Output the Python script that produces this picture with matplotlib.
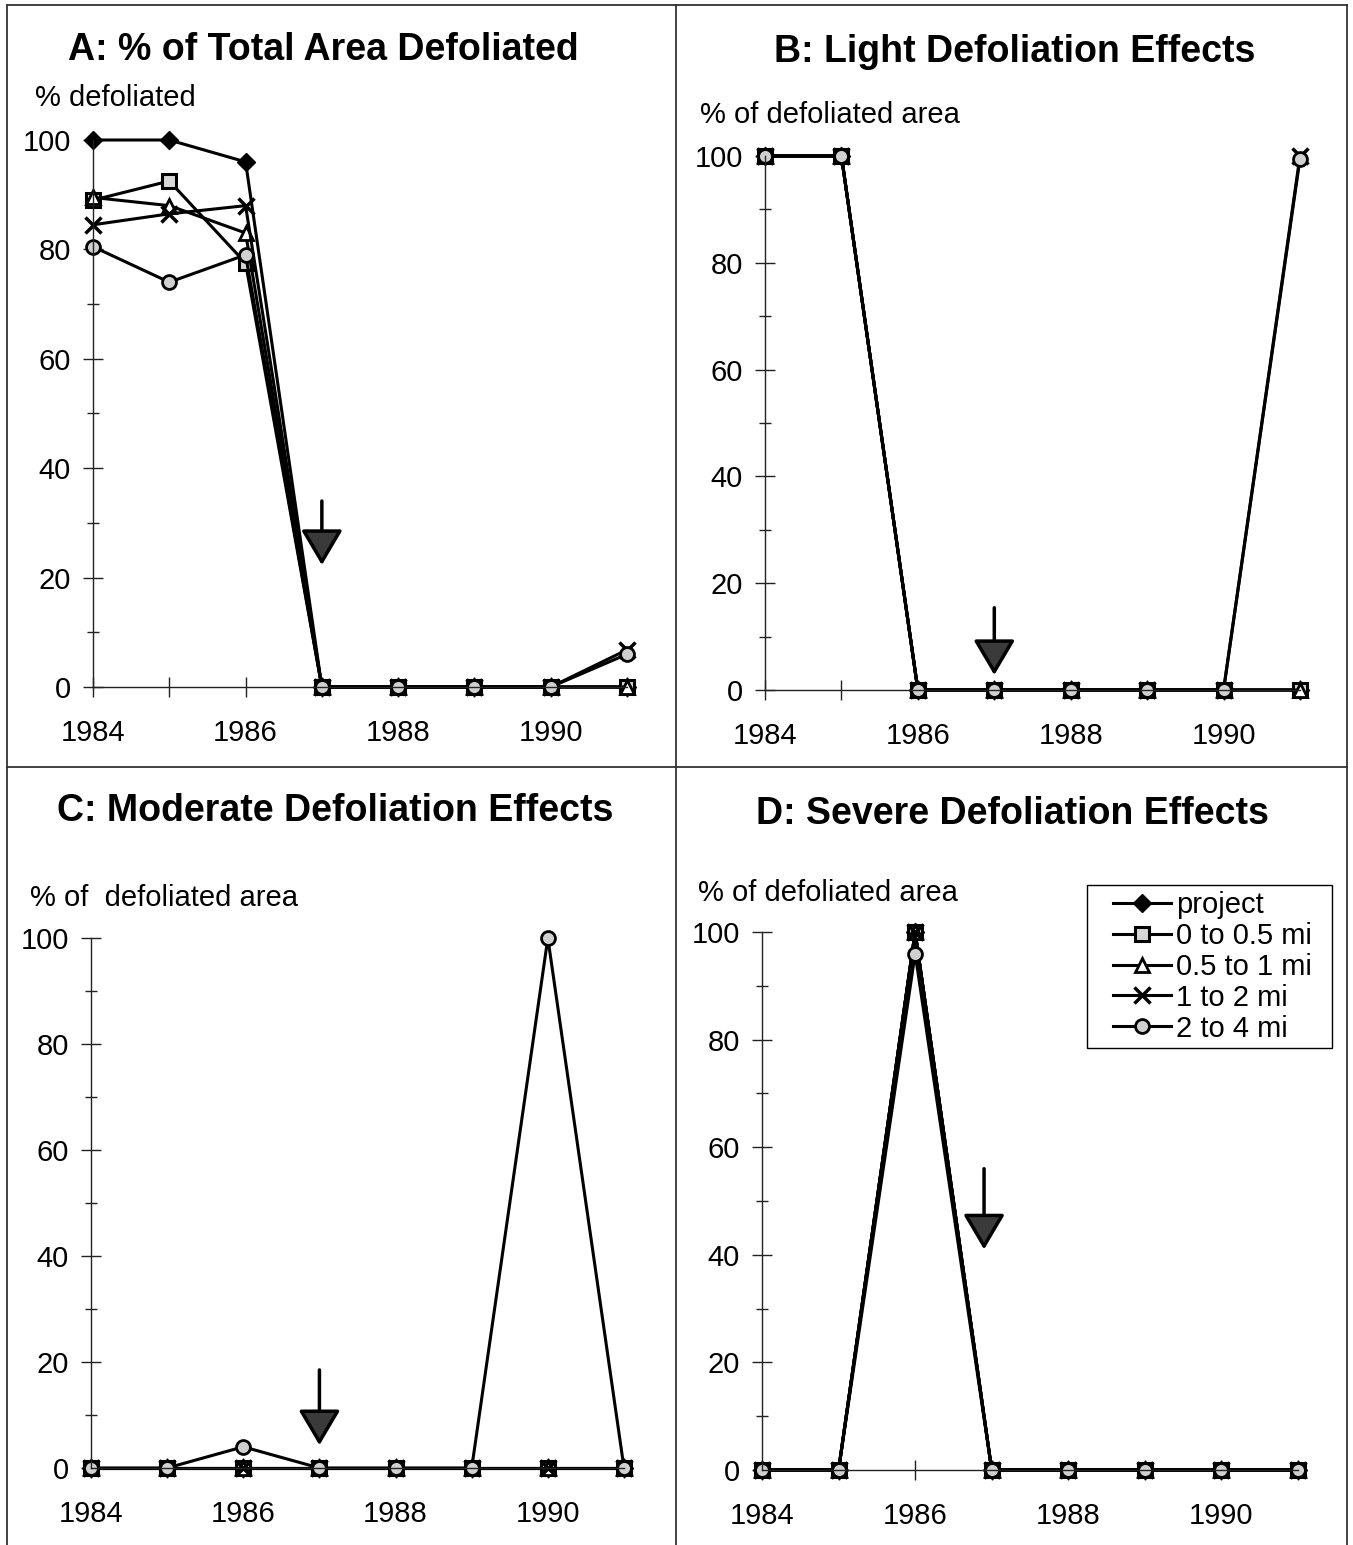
# four-panel defoliation chart (% of area defoliated by distance from project)

import matplotlib
matplotlib.use("Agg")
import matplotlib.pyplot as plt
from matplotlib.lines import Line2D
from matplotlib.patches import Rectangle

plt.rcParams['font.family'] = ['Liberation Sans', 'DejaVu Sans']

W, H = 1353, 1545

years = [1984, 1985, 1986, 1987, 1988, 1989, 1990, 1991]
year_labels = ['1984', '', '1986', '', '1988', '', '1990', '']
series_names = ['project', '0 to 0.5 mi', '0.5 to 1 mi', '1 to 2 mi', '2 to 4 mi']

# A: % of total area defoliated
a_project = [100, 100, 96, 0, 0, 0, 0, 0]
a_half = [89, 92.5, 77.5, 0, 0, 0, 0, 0]
a_one = [89.5, 88, 83, 0, 0, 0, 0, 0]
a_two = [84.5, 86.5, 88, 0, 0, 0, 0, 6.8]
a_four = [80.5, 74, 79, 0, 0, 0, 0, 6]

# B: light defoliation
b_project = [100, 100, 0, 0, 0, 0, 0, 0]
b_half = [100, 100, 0, 0, 0, 0, 0, 0]
b_one = [100, 100, 0, 0, 0, 0, 0, 0]
b_two = [100, 100, 0, 0, 0, 0, 0, 100]
b_four = [100, 100, 0, 0, 0, 0, 0, 99.5]

# C: moderate defoliation
c_project = [0, 0, 0, 0, 0, 0, 0, 0]
c_half = [0, 0, 0, 0, 0, 0, 0, 0]
c_one = [0, 0, 0, 0, 0, 0, 0, 0]
c_two = [0, 0, 0, 0, 0, 0, 0, 0]
c_four = [0, 0, 4, 0, 0, 0, 100, 0]

# D: severe defoliation
d_project = [0, 0, 100, 0, 0, 0, 0, 0]
d_half = [0, 0, 100, 0, 0, 0, 0, 0]
d_one = [0, 0, 100, 0, 0, 0, 0, 0]
d_two = [0, 0, 100, 0, 0, 0, 0, 0]
d_four = [0, 0, 96, 0, 0, 0, 0, 0]

titles = ['A: % of Total Area Defoliated', 'B: Light Defoliation Effects',
          'C: Moderate Defoliation Effects', 'D: Severe Defoliation Effects']
ylabels = ['% defoliated', '% of defoliated area', '% of  defoliated area', '% of defoliated area']

# arrow (year, top of shaft, tip) for each panel
arrows = [(1987, 34, 22.3), (1987, 15.4, 2.8), (1987, 18.5, 4.3), (1986.9, 56, 41)]

# marker styles for each series
styles = [
    dict(marker='D', ms=9, mfc='black', mec='black'),
    dict(marker='s', ms=10, mfc='#d8d8d8', mec='black', mew=2.2),
    dict(marker='^', ms=10, mfc='white', mec='black', mew=2),
    dict(marker='x', ms=12, mfc='black', mec='black', mew=2.5),
    dict(marker='o', ms=10, mfc='#d0d0d0', mec='black', mew=2),
]


def px_axes(fig, x0, y0, x1, y1):
    return fig.add_axes([x0 / W, 1 - y1 / H, (x1 - x0) / W, (y1 - y0) / H])


fig = plt.figure(figsize=(W / 100, H / 100), dpi=100)

# axes boxes in pixel coords (left, top, right, bottom)
boxes = [(93, 140, 627, 687), (765, 156, 1300, 690), (91, 938, 624, 1468), (762, 932, 1298, 1470)]
title_pos = [(323, 50), (1015, 52), (335, 811), (1012, 814)]
ylabel_pos = [(35, 98), (700, 115), (30, 898), (698, 893)]
data = [
    [a_project, a_half, a_one, a_two, a_four],
    [b_project, b_half, b_one, b_two, b_four],
    [c_project, c_half, c_one, c_two, c_four],
    [d_project, d_half, d_one, d_two, d_four],
]

for i in range(4):
    ax = px_axes(fig, *boxes[i])
    for vals, name, st in zip(data[i], series_names, styles):
        ax.plot(years, vals, color='black', lw=2.2, label=name, clip_on=False, **st)
    ax.set_xlim(1984, 1991)
    ax.set_ylim(0, 100)
    for s in ['top', 'right']:
        ax.spines[s].set_visible(False)
    for s in ['left', 'bottom']:
        ax.spines[s].set_linewidth(1.0)
        ax.spines[s].set_color('#222222')
    ax.set_xticks(years)
    ax.set_xticklabels(year_labels)
    ax.set_yticks([0, 20, 40, 60, 80, 100])
    ax.set_yticks(range(10, 100, 20), minor=True)
    ax.tick_params(axis='both', which='major', direction='inout', length=14, width=1.0,
                   labelsize=21, color='#222222')
    ax.tick_params(axis='y', which='minor', direction='inout', length=9, width=1.0, color='#222222')
    ax.tick_params(axis='x', pad=16)
    ax.tick_params(axis='y', pad=9)

    xa, top, tip = arrows[i]
    ax.annotate('', xy=(xa, tip), xytext=(xa, top),
                arrowprops=dict(arrowstyle='-|>,head_length=1.1,head_width=0.65',
                                mutation_scale=20, lw=2.5, fc='#3a3a3a', ec='black',
                                shrinkA=0, shrinkB=0))

    tx, ty = title_pos[i]
    fig.text(tx / W, 1 - ty / H, titles[i], ha='center', va='center', fontsize=27,
             fontweight='bold')
    lx, ly = ylabel_pos[i]
    fig.text(lx / W, 1 - ly / H, ylabels[i], ha='left', va='center', fontsize=21)

    if i == 3:
        handles, labels = ax.get_legend_handles_labels()
        fig.legend(handles, labels, loc='upper left',
                   bbox_to_anchor=(1110 / W, 1 - 888 / H), borderaxespad=0,
                   fontsize=21, frameon=False, labelspacing=0.1, handlelength=2.0,
                   handletextpad=0.15, borderpad=0.1)
        fig.add_artist(Rectangle((1087 / W, 1 - 1048 / H), 245 / W, 163 / H,
                                 transform=fig.transFigure, fill=False,
                                 ec='black', lw=1.0))

# panel border lines
border = dict(color='#333333', lw=1.3)
fig.add_artist(Line2D([7 / W, 7 / W], [0, 1 - 5 / H], **border))
fig.add_artist(Line2D([1347 / W, 1347 / W], [0, 1 - 5 / H], **border))
fig.add_artist(Line2D([7 / W, 1347 / W], [1 - 5 / H, 1 - 5 / H], **border))
fig.add_artist(Line2D([676 / W, 676 / W], [0, 1 - 5 / H], **border))
fig.add_artist(Line2D([7 / W, 1347 / W], [1 - 767 / H, 1 - 767 / H], **border))

fig.savefig('out.png', dpi=100)
